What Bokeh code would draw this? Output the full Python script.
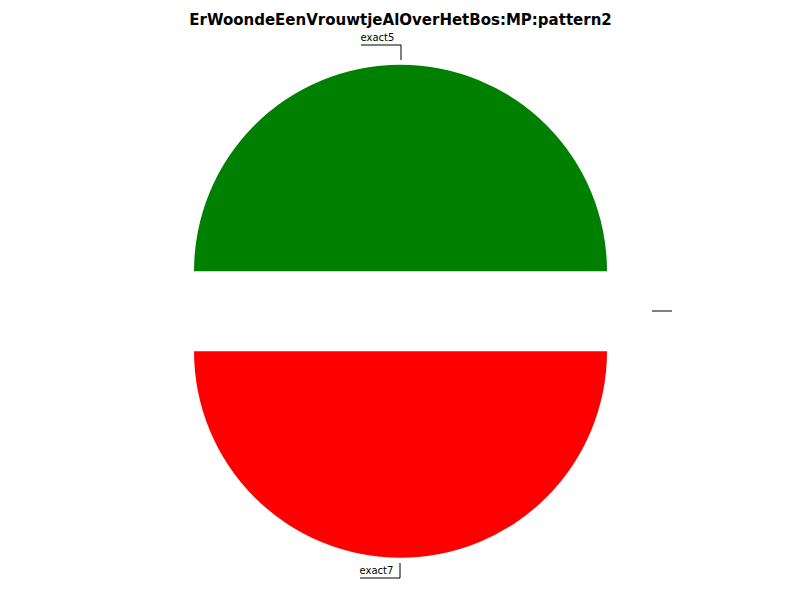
import math
from bokeh.plotting import figure
from bokeh.models import Range1d, Label
from bokeh.core.properties import value
from bokeh.embed import file_html
from bokeh.resources import INLINE

# ---- data ----
title_text = "ErWoondeEenVrouwtjeAlOverHetBos:MP:pattern2"
labels = ["exact5", "exact7", ""]
values = [1, 1, 0]
colors = ["#008000", "#ff0000", "#0000ff"]

# ---- layout (pixels) ----
W, H = 800, 600
cx, cy_screen = 400, 310.7
cy = H - cy_screen
R = 206.5
explode = 40
gap = 5
radial = 15
char_w = 6.0


def snap_x(v):
    return math.floor(v) + 0.5


def snap_y(v):
    s = H - v
    return H - (math.floor(s) + 0.5)


p = figure(width=W, height=H, output_backend="svg", toolbar_location=None,
           x_range=Range1d(0, W), y_range=Range1d(0, H), min_border=0)
p.axis.visible = False
p.grid.visible = False
p.outline_line_color = None
p.background_fill_color = "white"

total = float(sum(values))
start = 0.0
xs, ys, sa, ea, cols = [], [], [], [], []
lxs, lys = [], []
tx, ty, tt = [], [], []
for lab, v, c in zip(labels, values, colors):
    ang = 2 * math.pi * v / total
    end = start + ang
    mid = (start + end) / 2
    dx, dy = math.cos(mid), math.sin(mid)
    ox, oy = cx + explode * dx, cy + explode * dy
    if v > 0:
        xs.append(ox); ys.append(oy); sa.append(start); ea.append(end); cols.append(c)
    # leader line
    x1, y1 = ox + (R + gap) * dx, oy + (R + gap) * dy
    x2, y2 = x1 + radial * dx, y1 + radial * dy
    hl = len(lab) * char_w + 4 if lab else 5
    side = 1 if dx > 1e-9 else -1
    x3 = x2 + side * hl
    lxs.append([snap_x(x1), snap_x(x2), snap_x(x3)])
    lys.append([snap_y(y1), snap_y(y2), snap_y(y2)])
    tx.append(min(snap_x(x2), snap_x(x3)) - 0.5)
    ty.append(snap_y(y2) + 2)
    tt.append(lab)
    start = end

p.wedge(x=xs, y=ys, radius=R, start_angle=sa, end_angle=ea,
        fill_color=cols, line_color=None)
p.multi_line(xs=lxs, ys=lys, line_color="black", line_width=1)
p.text(x=tx, y=ty, text=tt, text_align="left", text_baseline="bottom",
       text_font=value("DejaVu Sans"), text_font_size="10px", text_color="black")

p.add_layout(Label(x=W / 2, y=H - 19, x_units="screen", y_units="screen",
                   text=title_text, text_align="center", text_baseline="alphabetic",
                   text_font="DejaVu Sans", text_font_style="bold",
                   text_font_size="15px", text_color="black"))

open("out.html", "w").write(file_html(p, INLINE))
